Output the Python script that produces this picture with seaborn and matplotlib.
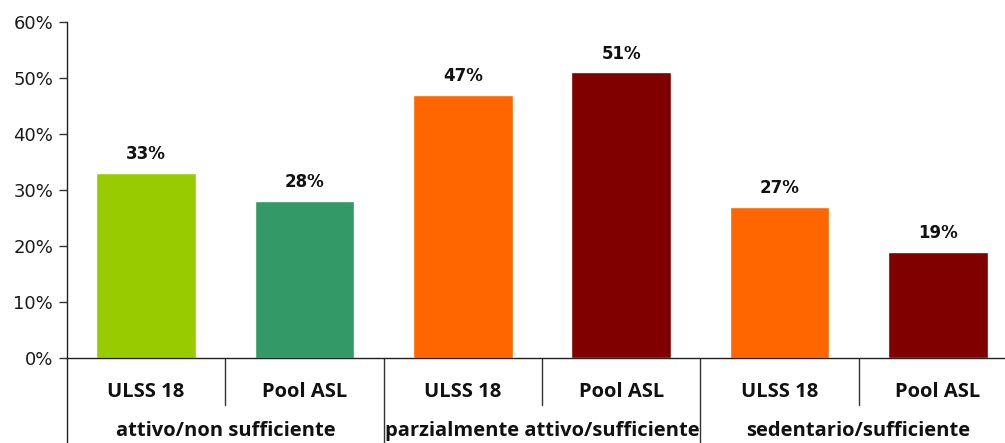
import matplotlib
matplotlib.use("Agg")
import matplotlib.pyplot as plt
import matplotlib.transforms as mtransforms
import seaborn as sns
import pandas as pd

# Data
groups = ["attivo/non sufficiente", "parzialmente attivo/sufficiente", "sedentario/sufficiente"]
sources = ["ULSS 18", "Pool ASL"]
values = [33, 28, 47, 51, 27, 19]
bar_colors = ["#99CC00", "#339966", "#FF6600", "#800000", "#FF6600", "#800000"]
y_ticks = [0, 10, 20, 30, 40, 50, 60]

slots = [f"{g}|{s}" for g in groups for s in sources]
df = pd.DataFrame({"slot": slots, "value": values})

sns.set_style("white")
plt.rcParams["font.family"] = ["DejaVu Sans"]

fig = plt.figure(figsize=(10.05, 4.43), dpi=100)
ax = fig.add_axes([67 / 1005, 85 / 443, 950 / 1005, 336 / 443])

sns.barplot(data=df, x="slot", y="value", hue="slot", palette=bar_colors,
            width=0.63, legend=False, ax=ax, saturation=1)

ax.set_ylim(0, 60)
ax.set_xlim(-0.5, len(slots) - 0.5)
ax.set_yticks(y_ticks)
ax.set_yticklabels([f"{t}%" for t in y_ticks], fontsize=13, color="#1a1a1a")
ax.tick_params(axis="y", direction="out", length=6, width=1, color="#333333", pad=4, left=True)
ax.tick_params(axis="x", length=0, labelbottom=False)
ax.set_xlabel("")
ax.set_ylabel("")

for side in ["top", "right"]:
    ax.spines[side].set_visible(False)
for side in ["left", "bottom"]:
    ax.spines[side].set_color("#222222")
    ax.spines[side].set_linewidth(1)

# value labels above bars
for i, v in enumerate(values):
    ax.annotate(f"{v}%", (i, v), xytext=(0, 7), textcoords="offset points",
                ha="center", va="bottom", fontsize=12, fontweight="bold",
                color="#111111")

# two-level category axis
trans = mtransforms.blended_transform_factory(ax.transData, ax.transAxes)
label_font = ["Open Sans", "DejaVu Sans"]
for i, s in enumerate(slots):
    ax.text(i, -0.101, s.split("|")[1], transform=trans, ha="center", va="center",
            fontsize=14.5, fontweight="bold", family=label_font, color="#111111")
for gi, g in enumerate(groups):
    ax.text(gi * 2 + 0.5, -0.232, g, transform=trans, ha="center", va="baseline",
            fontsize=14.5, fontweight="bold", family=label_font, color="#111111")

# separators
ax.plot([-0.5, -0.5], [0, -0.3], transform=trans, color="#222222", lw=1, clip_on=False)
for k in range(1, len(slots)):
    x = k - 0.5
    low = -0.3 if k % 2 == 0 else -0.14
    ax.plot([x, x], [0, low], transform=trans, color="#333333", lw=1, clip_on=False)

fig.savefig("out.png", dpi=100)
